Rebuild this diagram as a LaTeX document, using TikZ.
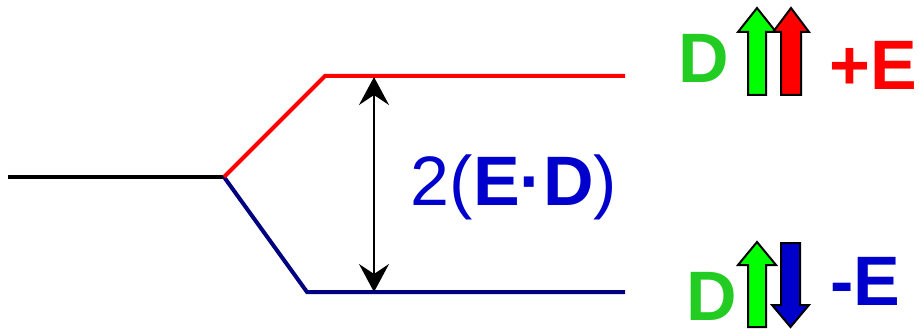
\documentclass[tikz,border=0pt]{standalone}
\usepackage{fontspec}
\setmainfont{Liberation Sans}
\usetikzlibrary{arrows.meta}
\definecolor{dgreen}{RGB}{34,204,34}
\definecolor{agreen}{RGB}{0,255,0}
\definecolor{tblue}{RGB}{0,0,204}
\definecolor{lblue}{RGB}{0,0,128}
\definecolor{ablue}{RGB}{0,0,204}
\tikzset{
  level/.style={line width=4pt},
  blockarrow/.style={draw=black, line width=2pt, line join=miter},
  bigtxt/.style={inner sep=0pt, anchor=base, font=\fontsize{70}{80}\selectfont\bfseries},
  gap/.style={{Stealth[length=28pt,width=30pt,inset=10pt]}-{Stealth[length=28pt,width=30pt,inset=10pt]}, line width=2pt}
}
\begin{document}
\begin{tikzpicture}[x=1pt,y=-1pt]
\useasboundingbox (0,0) rectangle (919,329);
\coordinate (L) at (8,177);
\coordinate (S) at (224,177);
\coordinate (R1) at (325,76);
\coordinate (R2) at (625,76);
\coordinate (B1) at (307,292);
\coordinate (B2) at (625,292);
\coordinate (A1) at (374,77);
\coordinate (A2) at (374,292);
\draw[level, black] (L) -- (S);
\draw[level, lblue] (S) -- (B1) -- (B2);
\draw[level, red] (S) -- (R1) -- (R2);
\draw[gap] (A1) -- (A2);
\node[inner sep=0pt, anchor=base, text=tblue, font=\fontsize{70}{80}\selectfont] (gaplabel) at (514,205)
  {2(\textbf{E·D})};
% top labels
\node[bigtxt, text=dgreen] (dtop) at (704,82) {D};
\node[bigtxt, text=red] (etop) at (873,90) {+E};
\node[bigtxt, text=dgreen] (dbot) at (711.5,320) {D};
\node[bigtxt, text=tblue] (ebot) at (865,305) {-E};
% block arrows
\filldraw[blockarrow, fill=agreen] (757,8) -- (776,32) -- (766,32) -- (766,95) -- (748,95) -- (748,32) -- (738,32) -- cycle;
\filldraw[blockarrow, fill=red] (791,8) -- (809,32) -- (801,32) -- (801,95) -- (781,95) -- (781,32) -- (773,32) -- cycle;
\filldraw[blockarrow, fill=agreen] (757,242) -- (776,265) -- (766,265) -- (766,327) -- (748,327) -- (748,265) -- (738,265) -- cycle;
\filldraw[blockarrow, fill=ablue] (790.5,327) -- (809,305) -- (800,305) -- (800,243) -- (781,243) -- (781,305) -- (772,305) -- cycle;
\end{tikzpicture}
\end{document}
